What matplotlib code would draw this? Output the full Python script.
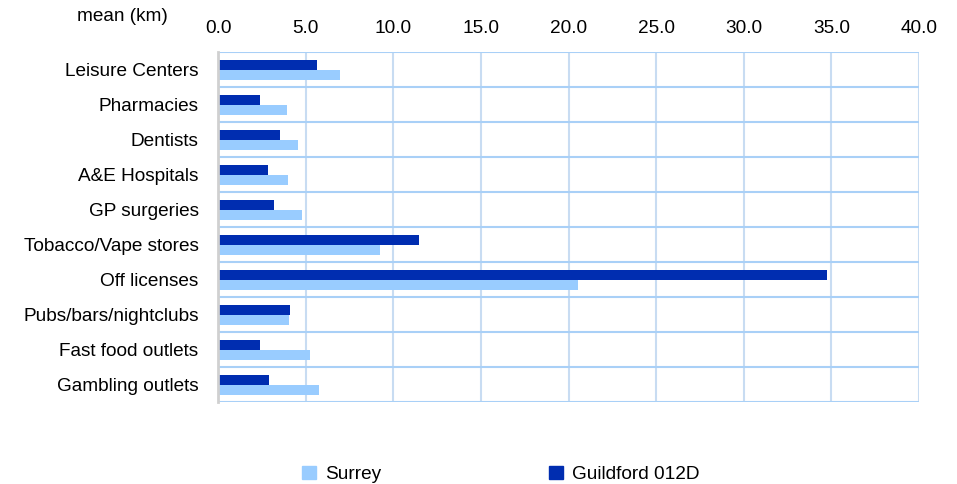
import numpy as np
import matplotlib.pyplot as plt
from matplotlib.patches import Patch

plt.rcParams['font.family'] = ['Liberation Sans', 'DejaVu Sans']

categories = ['Leisure Centers', 'Pharmacies', 'Dentists', 'A&E Hospitals', 'GP surgeries',
              'Tobacco/Vape stores', 'Off licenses', 'Pubs/bars/nightclubs',
              'Fast food outlets', 'Gambling outlets']
surrey = [6.96, 3.94, 4.56, 4.0, 4.79, 9.24, 20.54, 4.05, 5.25, 5.76]
guildford = [5.65, 2.4, 3.54, 2.85, 3.2, 11.45, 34.73, 4.11, 2.4, 2.91]
xticks = [0, 5, 10, 15, 20, 25, 30, 35, 40]

dark = '#002db0'
light = '#99ccff'
grid_v = '#c8dcf2'
grid_h = '#a9d0f7'
fs = 13.7

fig = plt.figure(figsize=(9.57, 4.84), dpi=100)
ax = fig.add_axes([0.2278, 0.1694, 0.7325, 0.7232])

y = np.arange(len(categories))
h = 0.28
ax.barh(y - 0.125, guildford, height=h, color=dark, zorder=3)
ax.barh(y + 0.155, surrey, height=h, color=light, zorder=3)

ax.set_xlim(0, 40)
ax.set_ylim(len(categories) - 0.5, -0.5)
ax.set_xticks(xticks)
ax.set_xticklabels([f'{v:.1f}' for v in xticks])
ax.set_yticks(y)
ax.set_yticklabels(categories)
ax.set_yticks(np.arange(len(categories) + 1) - 0.5, minor=True)

ax.xaxis.tick_top()
ax.tick_params(axis='x', length=0, labelsize=fs, pad=11)
ax.tick_params(axis='y', which='both', length=0, labelsize=fs, pad=14)

ax.grid(axis='x', color=grid_v, linewidth=1.5, zorder=0)
ax.grid(axis='y', which='minor', color=grid_h, linewidth=1.5, zorder=0)
ax.grid(axis='y', which='major', visible=False)

for s in ['top', 'right', 'bottom']:
    ax.spines[s].set_visible(False)
ax.spines['left'].set_color('#d0d0d0')
ax.spines['left'].set_linewidth(2)
ax.spines['left'].set_zorder(4)

fig.text(0.128, 0.966, 'mean (km)', fontsize=fs, ha='center', va='center')

handles = [Patch(color=light), Patch(color=dark)]
fig.legend(handles, ['Surrey', 'Guildford 012D'], loc='center', bbox_to_anchor=(0.523, 0.02),
           ncol=2, frameon=False, fontsize=fs, handlelength=0.75, handleheight=0.75,
           handletextpad=0.48, columnspacing=8.8, borderpad=0)

fig.savefig('out.png', dpi=100)
